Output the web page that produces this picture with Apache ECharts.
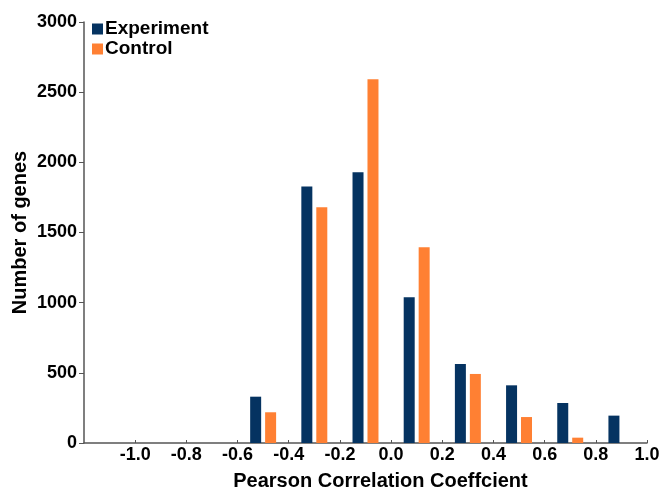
<!DOCTYPE html>
<html>
<head>
<meta charset="utf-8">
<script src="https://cdn.jsdelivr.net/npm/echarts@6/dist/echarts.min.js"></script>
<style>
html,body{margin:0;padding:0;background:#fff;}
#chart{width:662px;height:489px;}
</style>
</head>
<body>
<div id="chart"></div>
<script>
const seriesNames = ['Experiment', 'Control'];
const binCenters = [-0.5, -0.3, -0.1, 0.1, 0.3, 0.5, 0.7, 0.9];
const experiment = [330, 1827, 1929, 1038, 563, 411, 285, 195];
const control = [219, 1680, 2592, 1395, 492, 185, 38, 0];
const xTitle = 'Pearson Correlation Coeffcient';
const yTitle = 'Number of genes';

const FONT = '"Liberation Sans", Arial, Helvetica, sans-serif';
const chart = echarts.init(document.getElementById('chart'), null, {renderer: 'canvas'});
const option = {
  animation: false,
  backgroundColor: '#ffffff',
  textStyle: {fontFamily: FONT},
  grid: {left: 84, right: 15, top: 22, bottom: 46, containLabel: false, outerBoundsMode: 'none'},
  legend: {
    orient: 'vertical', left: 92, top: 19, padding: 0,
    itemWidth: 11, itemHeight: 11, itemGap: 0,
    icon: 'rect',
    textStyle: {fontFamily: FONT, fontSize: 19, lineHeight: 20, fontWeight: 'bold', color: '#000', padding: [0, 0, 0, -3]},
    data: seriesNames
  },
  xAxis: {
    type: 'value', min: -1.2, max: 1.0, interval: 0.2,
    name: xTitle, nameLocation: 'middle', nameGap: 28, nameMoveOverlap: false,
    nameTextStyle: {fontFamily: FONT, fontSize: 20, fontWeight: 'bold', color: '#000', padding: [0, 0, 0, 30]},
    splitLine: {show: false},
    axisLine: {show: true, onZero: false, lineStyle: {color: '#555', width: 1.5}},
    axisTick: {show: true, inside: true, length: 3, lineStyle: {color: '#555'}},
    axisLabel: {
      showMinLabel: false, margin: 3, color: '#000', fontFamily: FONT, fontSize: 18, fontWeight: 'bold',
      formatter: v => (Math.abs(v) < 1e-9 ? 0 : v).toFixed(1)
    }
  },
  yAxis: {
    type: 'value', min: 0, max: 3000, interval: 500,
    name: yTitle, nameLocation: 'middle', nameGap: 54, nameMoveOverlap: false,
    nameTextStyle: {fontFamily: FONT, fontSize: 20, fontWeight: 'bold', color: '#000'},
    splitLine: {show: false},
    axisLine: {show: true, onZero: false, lineStyle: {color: '#555', width: 1.5}},
    axisTick: {show: true, inside: false, length: 5, lineStyle: {color: '#555'}},
    axisLabel: {margin: 7, color: '#000', fontFamily: FONT, fontSize: 18, fontWeight: 'bold', formatter: v => String(v)}
  },
  series: [
    {
      name: seriesNames[0], type: 'bar', barWidth: 11, barGap: '36%',
      itemStyle: {color: '#053361'},
      data: binCenters.map((c, i) => [c, experiment[i]])
    },
    {
      name: seriesNames[1], type: 'bar', barWidth: 11, barGap: '36%',
      itemStyle: {color: '#ff8033'},
      data: binCenters.map((c, i) => [c, control[i]])
    }
  ]
};
chart.setOption(option);
</script>
</body>
</html>
